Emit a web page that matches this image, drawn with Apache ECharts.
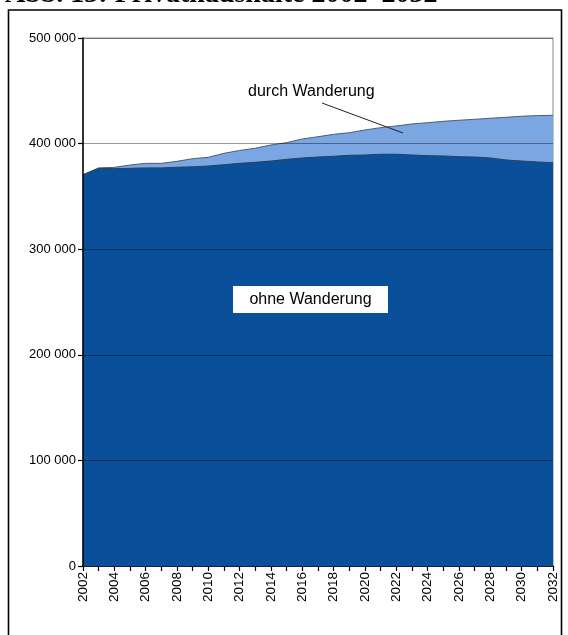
<!DOCTYPE html>
<html>
<head>
<meta charset="utf-8">
<title>Privathaushalte 2002-2032</title>
<script src="https://cdn.jsdelivr.net/npm/echarts@6/dist/echarts.min.js"></script>
<style>
  html, body { margin: 0; padding: 0; background: #fff; }
  #chart { width: 568px; height: 635px; }
</style>
</head>
<body>
<div id="chart"></div>
<script>
// Jahre 2002 - 2032
var years = ['2002','2003','2004','2005','2006','2007','2008','2009','2010','2011',
  '2012','2013','2014','2015','2016','2017','2018','2019','2020','2021',
  '2022','2023','2024','2025','2026','2027','2028','2029','2030','2031','2032'];

// Haushalte insgesamt (mit Wanderung)
var mitWanderung = [370500, 377000, 377500, 379700, 381300, 381300, 383200, 385700, 387000, 390800,
  393500, 395600, 398700, 400900, 404400, 406500, 408800, 410300, 412900, 415100,
  416700, 418600, 419800, 421100, 422100, 423000, 424000, 424900, 425900, 426500, 426800];

// Haushalte ohne Wanderung
var ohneWanderung = [370500, 376500, 376300, 376600, 377000, 377000, 377600, 378000, 378800, 380000,
  381300, 382300, 383500, 385100, 386400, 387300, 388000, 388900, 389200, 389900,
  389900, 389200, 388600, 388300, 387600, 387300, 386400, 384500, 383500, 382600, 381900];

var yTicks = [0, 100000, 200000, 300000, 400000, 500000];

var font = 'Arial, "Liberation Sans", sans-serif';

var myChart = echarts.init(document.getElementById('chart'));

function fmt(v) {
  // 500000 -> "500 000"
  return String(v).replace(/\B(?=(\d{3})+(?!\d))/g, ' ');
}

var option = {
  animation: false,
  backgroundColor: '#fff',
  grid: {
    left: 83,
    right: 15,
    top: 38,
    bottom: 69,
    show: true,
    borderColor: '#8a8a8a',
    borderWidth: 1,
    backgroundColor: 'transparent'
  },
  xAxis: {
    type: 'category',
    boundaryGap: false,
    data: years,
    axisLine: { show: true, lineStyle: { color: '#000', width: 1.5 } },
    axisTick: { show: true, interval: 0, length: 5, lineStyle: { color: '#000', width: 1.2 } },
    axisLabel: {
      interval: 1,
      rotate: 90,
      color: '#000',
      fontFamily: font,
      fontSize: 13.5,
      margin: 6
    },
    splitLine: { show: false }
  },
  yAxis: {
    type: 'value',
    min: yTicks[0],
    max: yTicks[yTicks.length - 1],
    interval: 100000,
    z: 3,
    axisLine: { show: true, lineStyle: { color: '#000', width: 1.5 } },
    axisTick: { show: true, length: 5, lineStyle: { color: '#000', width: 1.2 } },
    axisLabel: {
      color: '#000',
      fontFamily: font,
      fontSize: 13,
      margin: 7,
      formatter: function (v) { return fmt(v); }
    },
    splitLine: { show: true, lineStyle: { color: 'rgba(0,0,0,0.4)', width: 1 } }
  },
  series: [
    {
      name: 'durch Wanderung',
      type: 'line',
      data: mitWanderung,
      showSymbol: false,
      symbol: 'none',
      lineStyle: { color: '#4d5d73', width: 1 },
      areaStyle: { color: '#7aa6e1', opacity: 1 },
      z: 1
    },
    {
      name: 'ohne Wanderung',
      type: 'line',
      data: ohneWanderung,
      showSymbol: false,
      symbol: 'none',
      lineStyle: { color: '#2b3f5c', width: 1 },
      areaStyle: { color: '#0a4f9a', opacity: 1 },
      z: 2
    }
  ],
  graphic: [
    // Rahmen
    {
      type: 'rect',
      shape: { x: 8.5, y: 10, width: 553, height: 700 },
      style: { fill: 'none', stroke: '#000', lineWidth: 1.6 },
      z: 10
    },
    // Titel (oben abgeschnitten)
    {
      type: 'text',
      x: 5,
      y: -19,
      style: {
        text: 'Abb. 13: Privathaushalte 2002–2032',
        font: 'bold 28px "Liberation Serif", "Times New Roman", serif',
        fill: '#000',
        verticalAlign: 'top'
      },
      z: 10
    },
    // durch Wanderung
    {
      type: 'text',
      left: 248,
      top: 84,
      style: {
        text: 'durch Wanderung',
        font: '16px ' + font,
        fill: '#000'
      },
      z: 10
    },
    {
      type: 'line',
      shape: { x1: 322, y1: 103, x2: 403, y2: 133 },
      style: { stroke: '#222', lineWidth: 1 },
      z: 10
    },
    // ohne Wanderung
    {
      type: 'rect',
      shape: { x: 233, y: 286, width: 155, height: 27 },
      style: { fill: '#fff', stroke: 'none' },
      z: 10
    },
    {
      type: 'text',
      x: 310.5,
      y: 299.5,
      style: {
        text: 'ohne Wanderung',
        font: '16px ' + font,
        fill: '#000',
        align: 'center',
        verticalAlign: 'middle'
      },
      z: 11
    }
  ]
};

myChart.setOption(option);
window.onresize = function () {
  myChart.resize();
};
</script>
</body>
</html>
